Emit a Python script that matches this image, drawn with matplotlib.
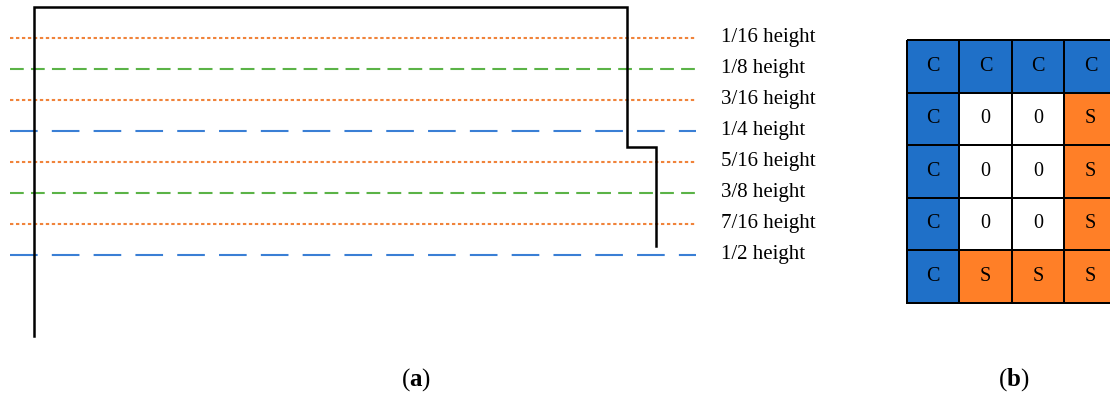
import numpy as np
import matplotlib.pyplot as plt
from matplotlib.colors import ListedColormap

plt.rcParams['font.family'] = ['Liberation Serif', 'DejaVu Serif']
plt.rcParams['mathtext.fontset'] = 'custom'
plt.rcParams['mathtext.rm'] = 'Liberation Serif'
plt.rcParams['mathtext.bf'] = 'Liberation Serif:bold'
plt.rcParams['lines.scale_dashes'] = False

# panel (a): water-level lines, as fractions of height
fractions = [1/16, 1/8, 3/16, 1/4, 5/16, 3/8, 7/16, 1/2]
level_labels = ['1/16 height', '1/8 height', '3/16 height', '1/4 height',
                '5/16 height', '3/8 height', '7/16 height', '1/2 height']
level_kind = ['dot', 'green', 'dot', 'blue', 'dot', 'green', 'dot', 'blue']

# profile outline (x in widths, y in heights measured from top)
profile_x = [0, 0, 1, 1, 1.049, 1.049]
profile_y = [0.663, 0, 0, 0.282, 0.282, 0.482]

# panel (b): cell grid
grid_labels = [['C', 'C', 'C', 'C'],
               ['C', '0', '0', 'S'],
               ['C', '0', '0', 'S'],
               ['C', '0', '0', 'S'],
               ['C', 'S', 'S', 'S']]
cell_code = {'0': 0, 'C': 1, 'S': 2}

styles = {
    'dot': dict(color='#F0833A', dashes=(2.4, 1.9)),
    'green': dict(color='#5BB347', dashes=(9.9, 5.2)),
    'blue': dict(color='#3A7FD5', dashes=(19.9, 10.2)),
}

fig = plt.figure(figsize=(11.1, 3.97), dpi=100)

ax1 = fig.add_axes([0, 0, 1, 1])
ax1.set_xlim(-0.0573, 1.8145)
ax1.set_ylim(0.7863, -0.0141)
ax1.axis('off')

for f, lab, kind in zip(fractions, level_labels, level_kind):
    ax1.plot([-0.0405, 1.1164], [f, f], lw=1.5, **styles[kind])
    ax1.text(1.1585, f, lab, fontsize=15, va='center', ha='left')

ax1.plot(profile_x, profile_y, color='black', lw=1.8, solid_joinstyle='miter')

ax2 = fig.add_axes([906.7 / 1110, 1 - 302.5 / 397, 210 / 1110, 262.5 / 397])
codes = np.array([[cell_code[c] for c in row] for row in grid_labels])
cmap = ListedColormap(['white', '#1F70C8', '#FF7F27'])
mesh = ax2.pcolormesh(codes, cmap=cmap, vmin=0, vmax=2, edgecolors='black', linewidth=1.2)
mesh.set_clip_on(False)
for i, row in enumerate(grid_labels):
    for j, c in enumerate(row):
        ax2.text(j + 0.5, i + 0.5, c, fontsize=14.5, ha='center', va='center')
ax2.set_xlim(0, 4)
ax2.set_ylim(5, 0)
ax2.axis('off')

fig.text(416 / 1110, 1 - 380 / 397, r'($\mathbf{a}$)', fontsize=18, ha='center', va='center')
fig.text(1014 / 1110, 1 - 380 / 397, r'($\mathbf{b}$)', fontsize=18, ha='center', va='center')

fig.savefig('out.png', dpi=100)
